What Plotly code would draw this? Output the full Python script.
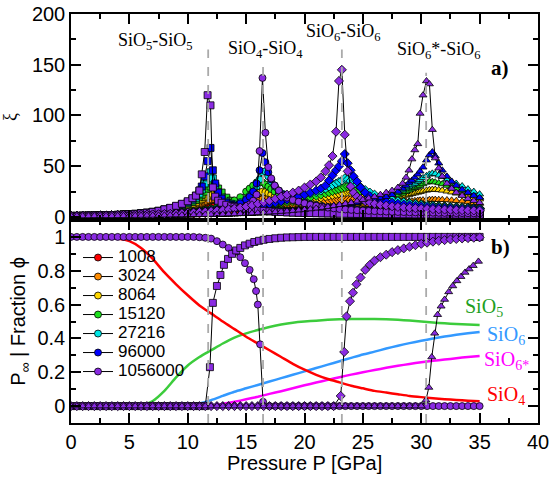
import plotly.graph_objects as go

# ---------------- data ----------------
SIZES = ["1008", "3024", "8064", "15120", "27216", "96000", "1056000"]
SIZE_COLORS = ["#ff0000", "#ff8c00", "#ffd700", "#1ee01e", "#00e5e5", "#0000ff", "#8a2be2"]

P_half = [0.0, 0.5, 1.0, 1.5, 2.0, 2.5, 3.0, 3.5, 4.0, 4.5, 5.0, 5.5, 6.0, 6.5, 7.0, 7.5, 8.0, 8.5, 9.0, 9.5,
          10.0, 10.5, 11.0, 11.5, 12.0, 12.5, 13.0, 13.5, 14.0, 14.5, 15.0, 15.5, 16.0, 16.5, 17.0, 17.5, 18.0, 18.5,
          19.0, 19.5, 20.0, 20.5, 21.0, 21.5, 22.0, 22.5, 23.0, 23.5, 24.0, 24.5, 25.0, 25.5, 26.0, 26.5, 27.0, 27.5,
          28.0, 28.5, 29.0, 29.5, 30.0, 30.5, 31.0, 31.5, 32.0, 32.5, 33.0, 33.5, 34.0, 34.5, 35.0]

# pressure grids of the correlation-length curves (finer near each transition)
P_sio5 = P_half[:20] + [10.0, 10.4, 10.7, 11.0, 11.2, 11.45, 11.7, 11.95, 12.15, 12.35, 12.6, 12.9, 13.3, 13.7] + P_half[28:]
P_sio4 = P_half[:30] + [15.0, 15.3, 15.6, 15.9, 16.15, 16.4, 16.65, 16.9, 17.15, 17.45, 17.8, 18.2] + P_half[37:]
P_sio6 = P_half[:42] + [21.0, 21.4, 21.8, 22.1, 22.4, 22.7, 22.95, 23.2, 23.45, 23.7, 23.95, 24.2, 24.5, 24.8, 25.2, 25.6] + P_half[52:]
P_sio6s = P_half[:54] + [27.0, 27.5, 28.0, 28.4, 28.7, 28.95, 29.2, 29.45, 29.7, 29.9, 30.15, 30.45, 30.7, 30.95,
                         31.2, 31.5, 31.8, 32.2, 32.6, 33.0, 33.5, 34.0, 34.5, 35.0]

# xi, SiO5-SiO5 (squares)
xi_sio5_1008 = [1.0,1.0,1.1,1.2,1.3,1.4,1.5,1.7,1.9,2.1,2.4,2.7,3.1,3.5,4.0,4.6,5.2,5.9,6.6,7.4,
                8.2,9,9.6,10.3,10.8,11.4,11.9,12.3,12.6,12.9,13,13,12.8,12.4,
                12,11.2,10.4,9.6,8.9,8.2,7.6,7.1,6.6,6.2,5.8,5.5,5.2,4.9,4.7,4.5,4.3,4.2,4.0,3.9,3.8,3.7,3.6,3.5,3.5,3.4,3.3,3.3,3.2,3.2,3.1,3.1,3.0,3.0,3.0,2.9,2.9,2.9,2.8,2.8,2.8,2.7,2.7]
xi_sio5_3024 = [1.0,1.0,1.1,1.2,1.3,1.4,1.6,1.8,2.0,2.2,2.5,2.9,3.3,3.8,4.4,5.1,5.9,6.8,7.8,8.9,
                10,11.2,12.2,13.3,14.2,15.2,16,16.8,17.5,18,18,17.5,16.5,15.2,
                14,12.8,11.7,10.7,9.8,9,8.3,7.7,7.2,6.7,6.3,5.9,5.6,5.3,5.1,4.9,4.7,4.5,4.4,4.2,4.1,4.0,3.9,3.8,3.7,3.7,3.6,3.5,3.5,3.4,3.4,3.3,3.3,3.2,3.2,3.2,3.1,3.1,3.1,3.0,3.0,3.0,2.9]
xi_sio5_8064 = [1.0,1.0,1.1,1.2,1.3,1.4,1.6,1.8,2.0,2.3,2.6,3.0,3.4,4.0,4.7,5.5,6.5,7.6,8.8,10,
                11.5,13,14.5,16.5,18,19.5,21,22,23,23,22,20,17.5,15.5,
                14,12.5,11.2,10,9,8.2,7.5,6.9,6.4,6,5.6,5.3,5,4.8,4.6,4.4,4.2,4.1,4.0,3.9,3.8,3.7,3.6,3.5,3.5,3.4,3.4,3.3,3.3,3.2,3.2,3.1,3.1,3.1,3.0,3.0,3.0,2.9,2.9,2.9,2.8,2.8,2.8]
xi_sio5_15120 = [1.0,1.0,1.1,1.2,1.3,1.4,1.6,1.8,2.0,2.3,2.6,3.0,3.5,4.1,4.9,5.8,7.0,8.3,9.7,11.2,
                 13,15,17,20,22,25,28,30,32,31,28,24,19,16,
                 14,12.5,11,9.8,8.8,8,7.3,6.7,6.2,5.8,5.4,5.1,4.8,4.6,4.4,4.2,4.0,3.9,3.8,3.7,3.6,3.5,3.4,3.3,3.3,3.2,3.2,3.1,3.1,3.0,3.0,2.9,2.9,2.9,2.8,2.8,2.8,2.7,2.7,2.7,2.6,2.6,2.6]
xi_sio5_27216 = [1.0,1.0,1.1,1.2,1.3,1.4,1.6,1.8,2.0,2.3,2.6,3.0,3.5,4.1,5.0,6.0,7.4,8.8,10.3,12,
                 14,16.5,19,23,27,33,39,44,38,30,24,19,15,13,
                 12,10.5,9.2,8.2,7.4,6.7,6.1,5.6,5.2,4.9,4.6,4.4,4.2,4.0,3.9,3.8,3.7,3.6,3.5,3.4,3.3,3.2,3.2,3.1,3.1,3.0,3.0,2.9,2.9,2.8,2.8,2.7,2.7,2.7,2.6,2.6,2.6,2.5,2.5,2.5,2.4,2.4,2.4]
xi_sio5_96000 = [1.0,1.0,1.1,1.2,1.3,1.4,1.6,1.8,2.0,2.3,2.6,3.0,3.5,4.1,5.0,6.0,7.4,8.8,10.5,12.5,
                 15,18,21,26,30,40,55,68,46,33,24,18,14,12,
                 11,9.5,8.5,7.5,6.8,6.2,5.7,5.3,4.9,4.6,4.4,4.2,4.0,3.9,3.8,3.7,3.6,3.5,3.4,3.3,3.2,3.1,3.1,3.0,3.0,2.9,2.9,2.8,2.8,2.7,2.7,2.6,2.6,2.6,2.5,2.5,2.5,2.4,2.4,2.4,2.3,2.3,2.3]
xi_sio5_1056000 = [1.0,1.0,1.1,1.2,1.3,1.4,1.6,1.8,2.0,2.3,2.6,3.0,3.5,4.1,5.0,6.0,7.5,9.0,11,13,
                   15.5,18.5,21,26,42,64,120,110,29,20,16,14,12,10.5,
                   10,9,8,7.2,6.5,6,5.5,5.1,4.8,4.5,4.3,4.1,3.9,3.8,3.7,3.6,3.5,3.4,3.3,3.2,3.1,3.0,3.0,2.9,2.9,2.8,2.8,2.7,2.7,2.6,2.6,2.5,2.5,2.5,2.4,2.4,2.4,2.3,2.3,2.3,2.2,2.2,2.2]

# xi, SiO4-SiO4 (circles)
xi_sio4_1008 = [1.0,1.0,1.1,1.1,1.2,1.3,1.4,1.5,1.6,1.7,1.8,2.0,2.2,2.4,2.6,2.8,3.1,3.4,3.7,4.1,4.5,5.0,5.5,6.1,6.8,7.5,8.3,9.1,9.9,10.8,
                11.5,12,12.4,12.8,13,13,12.9,12.7,12.4,12.1,11.7,11.2,
                10.9,10.4,9.9,9.4,8.9,8.5,8.1,7.7,7.4,7.0,6.7,6.5,6.2,6.0,5.8,5.6,5.4,5.3,5.1,5.0,4.9,4.8,4.7,4.6,4.5,4.4,4.3,4.3,4.2,4.1,4.1,4.0,4.0,3.9]
xi_sio4_3024 = [1.0,1.0,1.1,1.1,1.2,1.3,1.4,1.5,1.6,1.7,1.9,2.0,2.2,2.4,2.6,2.9,3.2,3.5,3.8,4.2,4.6,5.1,5.6,6.2,6.9,7.7,8.5,9.4,10.4,11.5,
                12.7,13.6,14.6,15.6,16.5,17.4,18.1,18.6,18.8,18.6,18,17.2,
                16.5,15.6,14.6,13.6,12.7,11.9,11.1,10.4,9.8,9.2,8.7,8.2,7.8,7.4,7.1,6.8,6.5,6.3,6.0,5.8,5.6,5.5,5.3,5.2,5.0,4.9,4.8,4.7,4.6,4.5,4.4,4.3,4.3,4.2]
xi_sio4_8064 = [1.0,1.0,1.1,1.1,1.2,1.3,1.4,1.5,1.6,1.8,1.9,2.1,2.3,2.5,2.7,3.0,3.3,3.6,4.0,4.4,4.9,5.4,6.0,6.7,7.5,8.5,9.7,11.1,12.7,14.5,
                17,18.5,20.5,22.5,24,25,24.5,23.5,22,20.5,19,17.5,
                16.3,14.8,13.5,12.4,11.4,10.5,9.8,9.1,8.5,8.0,7.6,7.2,6.8,6.5,6.2,6.0,5.8,5.6,5.4,5.2,5.1,5.0,4.8,4.7,4.6,4.5,4.4,4.3,4.2,4.2,4.1,4.0,4.0,3.9]
xi_sio4_15120 = [1.0,1.0,1.1,1.1,1.2,1.3,1.4,1.5,1.6,1.8,1.9,2.1,2.3,2.5,2.7,3.0,3.3,3.6,4.0,4.4,4.9,5.5,6.2,7.1,8.2,9.6,11.4,13.6,16.3,19.5,
                 25,28,31,34,35,34,32,30,27.5,25,22.5,20,
                 18.5,16.5,14.8,13.4,12.2,11.1,10.2,9.4,8.8,8.2,7.7,7.3,6.9,6.6,6.3,6.0,5.8,5.6,5.4,5.2,5.1,4.9,4.8,4.7,4.6,4.5,4.4,4.3,4.2,4.1,4.1,4.0,3.9,3.9]
xi_sio4_27216 = [1.0,1.0,1.1,1.1,1.2,1.3,1.4,1.5,1.6,1.7,1.9,2.0,2.2,2.4,2.6,2.8,3.0,3.3,3.6,4.0,4.4,4.9,5.5,6.2,7.0,8.0,9.2,10.7,12.5,14.6,
                 18,21,25,30,37,44,45,40,35,30,26,22.5,
                 20.5,18,16,14.4,13,11.8,10.8,9.9,9.1,8.5,7.9,7.4,7.0,6.6,6.3,6.0,5.8,5.6,5.4,5.2,5.0,4.9,4.8,4.6,4.5,4.4,4.3,4.2,4.1,4.0,4.0,3.9,3.8,3.8]
xi_sio4_96000 = [1.0,1.0,1.1,1.1,1.2,1.3,1.4,1.5,1.6,1.7,1.9,2.0,2.2,2.4,2.6,2.8,3.0,3.3,3.6,3.9,4.3,4.7,5.2,5.8,6.5,7.3,8.3,9.6,11.2,13.5,
                 17,20,25,33,46,63,54,44,37,31,26,22,
                 19.5,17,15.2,13.7,12.3,11.2,10.2,9.4,8.7,8.1,7.6,7.1,6.7,6.4,6.1,5.8,5.6,5.4,5.2,5.0,4.9,4.7,4.6,4.5,4.4,4.3,4.2,4.1,4.0,3.9,3.9,3.8,3.7,3.7]
xi_sio4_1056000 = [1.0,1.0,1.1,1.1,1.2,1.3,1.4,1.5,1.6,1.7,1.9,2.0,2.2,2.4,2.6,2.8,3.0,3.2,3.5,3.8,4.1,4.5,4.9,5.3,5.8,6.3,6.9,7.6,8.4,9.3,
                   10.5,12.5,16,22,65,137,83,49,38,31,26,21,
                   19,16.7,15,13.5,12,11,10,9.2,8.5,7.9,7.4,7,6.6,6.3,6,5.7,5.5,5.3,5.1,4.9,4.8,4.6,4.5,4.4,4.3,4.2,4.1,4.0,3.9,3.8,3.8,3.7,3.6,3.6]

# xi, SiO6-SiO6 (diamonds)
xi_sio6_1008 = [1.0,1.0,1.0,1.1,1.1,1.2,1.2,1.3,1.4,1.5,1.6,1.7,1.8,1.9,2.0,2.2,2.3,2.5,2.7,2.9,3.1,3.3,3.5,3.7,4.0,4.2,4.5,4.7,5.0,5.2,
                5.5,5.7,6.0,6.2,6.4,6.6,6.8,7.0,7.1,7.3,7.4,7.5,
                7.6,7.7,7.8,7.9,7.9,8.0,8.0,8.0,8.0,8.0,8.0,7.9,7.9,7.8,7.7,7.6,
                7.5,7.4,7.3,7.2,7.1,7.0,6.9,6.8,6.7,6.6,6.5,6.4,6.3,6.2,6.1,6.0,6.0,5.9,5.8]
xi_sio6_3024 = [1.0,1.0,1.1,1.1,1.2,1.3,1.4,1.5,1.6,1.7,1.8,1.9,2.1,2.2,2.4,2.6,2.8,3.0,3.3,3.5,3.8,4.1,4.5,4.9,5.3,5.7,6.1,6.6,7.1,7.6,
                8.1,8.6,9.2,9.7,10.3,10.9,11.5,12.1,12.7,13.3,13.9,14.5,
                15,15.5,15.9,16.2,16.5,16.8,17,17.1,17.1,17,16.8,16.6,16.3,15.9,15.5,15.1,
                14.7,14.2,13.7,13.2,12.8,12.4,12,11.6,11.2,10.9,10.6,10.3,10,9.8,9.5,9.3,9.1,8.9,8.7]
xi_sio6_8064 = [1.0,1.0,1.1,1.1,1.2,1.3,1.4,1.5,1.6,1.7,1.8,2.0,2.1,2.3,2.5,2.7,2.9,3.1,3.4,3.7,4.0,4.4,4.8,5.2,5.7,6.2,6.7,7.2,7.7,8.3,
                8.9,9.5,10.2,10.9,11.6,12.4,13.2,14,14.9,15.8,16.7,17.6,
                18.4,19.3,20.2,21,21.8,22.6,23.3,24,24.6,25,24.8,24.3,23.5,22.5,21.3,20.2,
                19.2,18.1,17.1,16.1,15.3,14.5,13.8,13.1,12.5,12,11.5,11,10.6,10.2,9.9,9.6,9.3,9,8.8]
xi_sio6_15120 = [1.0,1.0,1.1,1.1,1.2,1.3,1.4,1.5,1.6,1.7,1.8,2.0,2.1,2.3,2.5,2.7,2.9,3.1,3.4,3.7,4.0,4.4,4.8,5.2,5.7,6.2,6.7,7.2,7.8,8.4,
                 9.0,9.7,10.4,11.2,12,13,14,15,16,17.2,18.4,19.6,
                 20.8,22,23.3,24.4,25.5,26.6,27.5,28.5,29.3,30,29.5,28.5,27.3,25.8,24,22.5,
                 21,19.5,18.1,16.9,15.8,14.8,13.9,13.1,12.4,11.8,11.2,10.7,10.3,9.9,9.5,9.2,8.9,8.6,8.4]
xi_sio6_27216 = [1.0,1.0,1.1,1.1,1.2,1.3,1.4,1.5,1.6,1.7,1.8,2.0,2.1,2.3,2.5,2.7,2.9,3.1,3.4,3.7,4.0,4.4,4.8,5.2,5.7,6.2,6.8,7.4,8.0,8.6,
                 9.3,10.1,11,12,13,14.2,15.5,17,18.5,20,21.5,23,
                 24.5,26,28,30,31.5,33,34.5,36,38,37,35.5,34,32,29.5,26.5,24,
                 22,20,18.3,16.8,15.5,14.4,13.4,12.6,11.9,11.3,10.8,10.3,9.9,9.5,9.2,8.9,8.6,8.4,8.2]
xi_sio6_96000 = [1.0,1.0,1.1,1.1,1.2,1.3,1.4,1.5,1.6,1.7,1.8,2.0,2.1,2.3,2.5,2.7,2.9,3.1,3.4,3.7,4.0,4.4,4.8,5.2,5.7,6.2,6.8,7.4,8.0,8.6,
                 9.3,10.1,11,12,13,14.2,15.5,17,18.5,20,22,24,
                 26,28,31,36,41,46,50,55,62,53,46,40,35,29,24,20.5,
                 18,16.5,15,14,13,12.2,11.5,10.9,10.4,9.9,9.5,9.1,8.8,8.5,8.2,8.0,7.8,7.6,7.4]
xi_sio6_1056000 = [1.0,1.0,1.1,1.1,1.2,1.3,1.4,1.5,1.6,1.7,1.8,2.0,2.1,2.3,2.5,2.7,2.9,3.1,3.4,3.7,4.0,4.4,4.8,5.2,5.7,6.2,6.8,7.5,8.3,9.2,
                   10.3,11.5,13,14.5,16,18,20,22,24,26,29,32,
                   35,39,45,51,60,84,134,145,81,45,30,24,20,17.5,15.5,14,
                   13,12,11.2,10.5,9.9,9.4,9,8.6,8.3,8,7.7,7.5,7.3,7.1,6.9,6.7,6.6,6.4,6.3]

# xi, SiO6*-SiO6 (triangles)
xi_sio6s_1008 = [1.0,1.0,1.0,1.0,1.1,1.1,1.1,1.1,1.2,1.2,1.3,1.3,1.4,1.5,1.5,1.6,1.7,1.8,1.9,1.9,
                 2.0,2.1,2.2,2.3,2.4,2.5,2.6,2.7,2.9,3.0,3.2,3.4,3.6,3.8,4.0,4.2,4.4,4.6,4.9,5.1,
                 5.3,5.5,5.8,6.0,6.2,6.4,6.6,6.8,7.0,7.2,7.3,7.5,7.7,7.8,
                 8.0,8.1,8.3,8.4,8.5,8.6,8.6,8.7,8.8,8.8,8.9,8.9,9.0,9.0,9.0,9.0,8.9,8.9,8.8,8.7,8.6,8.4,8.2,8.0]
xi_sio6s_3024 = [1.0,1.0,1.0,1.0,1.1,1.1,1.1,1.1,1.2,1.2,1.3,1.3,1.4,1.5,1.5,1.6,1.7,1.8,1.9,1.9,
                 2.0,2.1,2.2,2.3,2.4,2.5,2.6,2.8,3.0,3.2,3.4,3.6,3.9,4.2,4.5,4.8,5.1,5.5,5.9,6.3,
                 6.7,7.1,7.5,8.0,8.5,9.0,9.5,10,10.5,11,11.5,12,12.5,13,
                 13.4,13.8,14.2,14.6,15,15.3,15.6,15.9,16.2,16.4,16.6,16.8,17,17.1,17.1,17,16.9,16.7,16.4,16,15.5,14.8,14,13.2]
xi_sio6s_8064 = [1.0,1.0,1.0,1.0,1.1,1.1,1.1,1.1,1.2,1.2,1.3,1.3,1.4,1.5,1.5,1.6,1.7,1.8,1.9,1.9,
                 2.0,2.1,2.2,2.3,2.4,2.5,2.7,2.9,3.1,3.3,3.5,3.8,4.1,4.4,4.8,5.2,5.6,6.0,6.4,6.9,
                 7.4,7.9,8.4,9.0,9.6,10.2,10.8,11.4,12,12.7,13.4,14.1,14.8,15.5,
                 16.2,17.6,19,20.2,21.2,22,22.8,23.5,24.2,24.8,25.5,26.2,26.8,27,27,26.7,26.2,25.3,24.4,23.3,22,20.5,19,17.5]
xi_sio6s_15120 = [1.0,1.0,1.0,1.0,1.1,1.1,1.1,1.1,1.2,1.2,1.3,1.3,1.4,1.5,1.5,1.6,1.7,1.8,1.9,1.9,
                  2.0,2.1,2.2,2.3,2.4,2.5,2.7,2.9,3.1,3.3,3.5,3.8,4.1,4.4,4.8,5.2,5.6,6.1,6.6,7.1,
                  7.6,8.2,8.8,9.4,10.1,10.8,11.5,12.2,13,13.8,14.6,15.4,16.2,17,
                  17.8,19.6,21.5,23.2,24.8,26.2,27.5,28.8,30,31,32.5,34,35,34.8,34.3,33.5,32.5,31,29.5,28,26,24,22,19.5]
xi_sio6s_27216 = [1.0,1.0,1.0,1.0,1.1,1.1,1.1,1.1,1.2,1.2,1.3,1.3,1.4,1.5,1.5,1.6,1.7,1.8,1.9,1.9,
                  2.0,2.1,2.2,2.3,2.4,2.5,2.6,2.8,3.0,3.2,3.4,3.7,4.0,4.3,4.6,5.0,5.4,5.9,6.4,6.9,
                  7.4,8.0,8.7,9.4,10.2,11,11.9,12.8,13.7,14.7,15.7,16.7,17.8,18.9,
                  20,22,24,26.5,28.5,30,31.5,33,35,36.5,38.5,40.5,42,43,42.5,41,39.5,37,35,33,30.5,27.5,25,22.5]
xi_sio6s_96000 = [1.0,1.0,1.0,1.0,1.1,1.1,1.1,1.1,1.2,1.2,1.3,1.3,1.4,1.5,1.5,1.6,1.7,1.8,1.9,1.9,
                  2.0,2.1,2.2,2.3,2.4,2.5,2.6,2.8,3.0,3.2,3.4,3.7,4.0,4.3,4.6,5.0,5.3,5.7,6.2,6.7,
                  7.2,7.8,8.4,9.0,9.7,10.5,11.3,12.2,13.1,14.1,15.2,16.4,17.6,18.8,
                  20,22,25,28,31,34,36,39,42,45,49,56,61,64,60,53,46,40,35,31,27,24,21,19]
xi_sio6s_1056000 = [1.0,1.0,1.0,1.0,1.1,1.1,1.1,1.1,1.2,1.2,1.3,1.3,1.4,1.5,1.5,1.6,1.7,1.8,1.9,1.9,
                    2.0,2.1,2.2,2.3,2.4,2.5,2.6,2.8,3.0,3.2,3.4,3.7,4.0,4.3,4.6,5.0,5.3,5.7,6.2,6.7,
                    7.2,7.8,8.5,9.2,10,11,12,13,14,15.5,17,18.5,20,22,
                    24,26,29,33,39,46,57,66,72,102,120,134,131,86,58,48,40,33,28,24,21,18,16,14]

# Fractions of Si units (lines, lower panel)
P_int = [0, 1, 2, 3, 4, 5, 6, 7, 8, 9, 10, 11, 12, 13, 14, 15, 16, 17, 18, 19, 20, 21, 22, 23, 24, 25, 26, 27, 28,
         29, 30, 31, 32, 33, 34, 35]
frac_sio4 = [1.0,1.0,1.0,0.998,0.99,0.975,0.935,0.87,0.79,0.72,0.655,0.595,0.548,0.5,0.455,0.41,0.37,0.33,0.29,0.25,
             0.215,0.185,0.16,0.14,0.12,0.105,0.09,0.08,0.07,0.06,0.053,0.047,0.041,0.036,0.032,0.029]
frac_sio5 = [0,0,0,0,0,0,0.003,0.03,0.09,0.17,0.24,0.29,0.33,0.37,0.405,0.43,0.45,0.468,0.482,0.493,
             0.5,0.505,0.51,0.513,0.515,0.515,0.515,0.513,0.51,0.506,0.5,0.494,0.489,0.485,0.482,0.479]
frac_sio6 = [0,0,0,0,0,0,0,0,0,0,0.003,0.015,0.035,0.06,0.085,0.105,0.125,0.145,0.165,0.185,
             0.205,0.225,0.245,0.265,0.285,0.305,0.322,0.34,0.357,0.372,0.386,0.399,0.411,0.421,0.43,0.438]
frac_sio6s = [0,0,0,0,0,0,0,0,0,0,0,0,0.003,0.012,0.025,0.04,0.055,0.072,0.088,0.105,
              0.123,0.139,0.155,0.171,0.186,0.2,0.213,0.226,0.238,0.249,0.259,0.268,0.275,0.283,0.29,0.296]

# P_infinity of the largest system (1056000)
P_pinf_sio5 = P_half[:24] + [11.9, 12.15, 12.5, 12.8, 13.1, 13.45, 13.8, 14.15, 14.5, 14.9, 15.3, 15.7, 16.1, 16.5,
                             17.0, 17.5, 18.0, 18.5, 19.0, 19.5] + P_half[40:]
pinf_sio5 = [0,0,0,0,0,0,0,0,0,0,0,0,0,0,0,0,0,0,0,0,0,0,0,0,
             0.23,0.61,0.71,0.775,0.835,0.87,0.9,0.92,0.935,0.95,0.96,0.97,0.977,0.983,0.988,0.992,0.995,0.997,0.998,0.999,
             1,1,1,1,1,1,1,1,1,1,1,1,1,1,1,1,1,1,1,1,1,1,1,1,1,1,1,1,1,1,1]
P_pinf_sio4 = P_half[:24] + [12.0, 12.5, 13.0, 13.5, 14.0, 14.5, 14.9, 15.3, 15.65, 15.85, 16.0, 16.2, 16.45] + P_half[34:]
pinf_sio4 = [1,1,1,1,1,1,1,1,1,1,1,1,1,1,1,1,1,1,1,1,1,1,0.998,0.995,
             0.99,0.975,0.955,0.935,0.91,0.88,0.845,0.805,0.75,0.68,0.6,0.365,0.025,
             0,0,0,0,0,0,0,0,0,0,0,0,0,0,0,0,0,0,0,0,0,0,0,0,0,0,0,0,0,0,0,0,0,0,0,0,0]
P_pinf_sio6 = P_half[:46] + [23.1, 23.4, 23.6, 23.9, 24.15, 24.45, 24.8, 25.2, 25.6, 26.0, 26.5, 27.0, 27.5, 28.0,
                             28.5, 29.0, 29.5, 30.0, 30.5, 31.0, 31.5, 32.0, 32.5, 33.0, 33.5, 34.0, 34.5, 35.0]
pinf_sio6 = [0,0,0,0,0,0,0,0,0,0,0,0,0,0,0,0,0,0,0,0,0,0,0,0,0,0,0,0,0,0,0,0,0,0,0,0,0,0,0,0,0,0,0,0,0,0,
             0.06,0.32,0.53,0.62,0.67,0.72,0.76,0.805,0.835,0.86,0.88,0.895,0.91,0.922,0.932,0.942,0.951,0.959,
             0.966,0.972,0.977,0.981,0.985,0.988,0.991,0.993,0.995,0.997]
P_pinf_sio6s = P_half[:61] + [30.4, 30.65, 30.9, 31.15, 31.4, 31.7, 32.0, 32.35, 32.7, 33.05, 33.4, 33.75, 34.1, 34.45, 34.9]
pinf_sio6s = [0,0,0,0,0,0,0,0,0,0,0,0,0,0,0,0,0,0,0,0,0,0,0,0,0,0,0,0,0,0,0,0,0,0,0,0,0,0,0,0,0,0,0,0,0,0,0,0,0,0,0,0,0,0,0,0,0,0,0,0,0,
              0.035,0.11,0.29,0.43,0.54,0.59,0.63,0.675,0.71,0.74,0.765,0.79,0.81,0.83,0.855]

# transition pressures (dashed guides) and their top ends in the xi panel
P_trans = [11.75, 16.45, 23.2, 30.42]
xi_guide_top = [165, 150, 165, 142]

# ---------------- figure ----------------
XI = {
    "sio5": (P_sio5, [xi_sio5_1008, xi_sio5_3024, xi_sio5_8064, xi_sio5_15120, xi_sio5_27216, xi_sio5_96000, xi_sio5_1056000], "square"),
    "sio4": (P_sio4, [xi_sio4_1008, xi_sio4_3024, xi_sio4_8064, xi_sio4_15120, xi_sio4_27216, xi_sio4_96000, xi_sio4_1056000], "circle"),
    "sio6": (P_sio6, [xi_sio6_1008, xi_sio6_3024, xi_sio6_8064, xi_sio6_15120, xi_sio6_27216, xi_sio6_96000, xi_sio6_1056000], "diamond"),
    "sio6s": (P_sio6s, [xi_sio6s_1008, xi_sio6s_3024, xi_sio6s_8064, xi_sio6s_15120, xi_sio6s_27216, xi_sio6s_96000, xi_sio6s_1056000], "triangle-up"),
}
for key, (px, series, _) in XI.items():
    for s, ys in zip(SIZES, series):
        if len(px) != len(ys):
            raise ValueError(f"length mismatch {key} {s}: {len(px)} vs {len(ys)}")
for name, a, b in [("sq", P_pinf_sio5, pinf_sio5), ("ci", P_pinf_sio4, pinf_sio4),
                   ("di", P_pinf_sio6, pinf_sio6), ("tr", P_pinf_sio6s, pinf_sio6s)]:
    if len(a) != len(b):
        raise ValueError(f"length mismatch pinf {name}: {len(a)} vs {len(b)}")

SERIF = "Liberation Serif, Times New Roman, serif"
SANS = "Liberation Sans, Arial, Helvetica, sans-serif"

fig = go.Figure()
MS = 7
for i, (s, col) in enumerate(zip(SIZES, SIZE_COLORS)):
    for key in ["sio5", "sio4", "sio6", "sio6s"]:
        px, series, sym = XI[key]
        fig.add_trace(go.Scatter(
            x=px, y=series[i], mode="lines+markers", xaxis="x", yaxis="y",
            name=f"<span style='font-size:17px'>{s}</span>", showlegend=(key == "sio4"), legendgroup=s,
            line=dict(color="black", width=1),
            marker=dict(symbol=sym, size=MS, color=col, line=dict(color="black", width=0.8)),
            hoverinfo="skip"))

LINE_COLORS = {"sio4": "#ff0000", "sio5": "#3ccc3c", "sio6": "#3399ff", "sio6s": "#ff00ff"}
for key, ys in [("sio5", frac_sio5), ("sio6", frac_sio6), ("sio6s", frac_sio6s), ("sio4", frac_sio4)]:
    fig.add_trace(go.Scatter(x=P_int, y=ys, mode="lines", xaxis="x2", yaxis="y2", showlegend=False,
                             line=dict(color=LINE_COLORS[key], width=2.5, shape="spline", smoothing=0.6),
                             hoverinfo="skip"))

purple = SIZE_COLORS[-1]
for px, ys, sym in [(P_pinf_sio4, pinf_sio4, "circle"), (P_pinf_sio5, pinf_sio5, "square"),
                    (P_pinf_sio6, pinf_sio6, "diamond"), (P_pinf_sio6s, pinf_sio6s, "triangle-up")]:
    fig.add_trace(go.Scatter(x=px, y=ys, mode="lines+markers", xaxis="x2", yaxis="y2", showlegend=False,
                             line=dict(color="black", width=1),
                             marker=dict(symbol=sym, size=MS, color=purple, line=dict(color="black", width=0.8)),
                             hoverinfo="skip"))

shapes = []
for xc, yt in zip(P_trans, xi_guide_top):
    shapes.append(dict(type="line", xref="x", yref="y", x0=xc, x1=xc, y0=-3, y1=yt,
                       line=dict(color="#aaaaaa", width=1.8, dash="dash"), layer="above"))
    shapes.append(dict(type="line", xref="x2", yref="y2", x0=xc, x1=xc, y0=-0.1, y1=1.1,
                       line=dict(color="#aaaaaa", width=1.8, dash="dash"), layer="above"))

ann = []
for txt, x, y in [("SiO<sub>5</sub>-SiO<sub>5</sub>", 7.28, 172.5),
                  ("SiO<sub>4</sub>-SiO<sub>4</sub>", 16.62, 165),
                  ("SiO<sub>6</sub>-SiO<sub>6</sub>", 23.34, 181.5),
                  ("SiO<sub>6</sub>*-SiO<sub>6</sub>", 31.52, 164)]:
    ann.append(dict(text=txt, x=x, y=y, xref="x", yref="y", showarrow=False,
                    font=dict(family=SERIF, size=18, color="black")))
ann.append(dict(text="<b>a)</b>", x=36.75, y=146.8, xref="x", yref="y", showarrow=False,
                font=dict(family=SERIF, size=21, color="black")))
ann.append(dict(text="<b>b)</b>", x=36.83, y=0.94, xref="x2", yref="y2", showarrow=False,
                font=dict(family=SERIF, size=21, color="black")))
for txt, col, x, y in [("SiO<sub>5</sub>", "#1f9f1f", 35.37, 0.58),
                       ("SiO<sub>6</sub>", "#3399ff", 37.26, 0.42),
                       ("SiO<sub>6*</sub>", "#ff00ff", 37.34, 0.267),
                       ("SiO<sub>4</sub>", "#ff0000", 37.26, 0.06)]:
    ann.append(dict(text=txt, x=x, y=y, xref="x2", yref="y2", showarrow=False,
                    font=dict(family=SERIF, size=20, color=col)))
# x-axis title (placed as paper text so it sits as close to the tick labels as in the reference)
ann.append(dict(text="Pressure P [GPa]", x=0.5, y=-0.097, xref="paper", yref="paper", showarrow=False,
                xanchor="center", yanchor="middle", font=dict(family=SANS, size=20, color="black")))

axis_common = dict(showline=True, linecolor="black", linewidth=1.5, mirror="allticks", ticks="inside",
                   ticklen=10, tickwidth=1.5, tickcolor="black", showgrid=False, zeroline=False,
                   automargin=False, tickfont=dict(family=SANS, size=20, color="black"))
split = 206.0 / 409.0
fig.update_layout(
    width=555, height=499, margin=dict(l=71, r=17, t=14, b=76, autoexpand=False),
    plot_bgcolor="white", paper_bgcolor="white",
    shapes=shapes, annotations=ann,
    legend=dict(x=0.015, y=0.44, xanchor="left", yanchor="top", bgcolor="rgba(0,0,0,0)",
                font=dict(family=SANS, size=11.5, color="black"), itemwidth=30, tracegroupgap=0),
    xaxis=dict(domain=[0, 1], anchor="y", range=[0, 40], dtick=5, showticklabels=False, matches="x2",
               minor=dict(ticks="inside", dtick=2.5, ticklen=5, tickwidth=1.5, tickcolor="black"), **axis_common),
    yaxis=dict(domain=[1 - split, 1], anchor="x", range=[-3, 200], dtick=50, tick0=0,
               minor=dict(ticks="inside", dtick=25, ticklen=5, tickwidth=1.5, tickcolor="black"),
               title=dict(text="ξ", font=dict(family=SERIF, size=18, color="black"), standoff=12), **axis_common),
    xaxis2=dict(domain=[0, 1], anchor="y2", range=[0, 40], dtick=5,
                minor=dict(ticks="inside", dtick=2.5, ticklen=5, tickwidth=1.5, tickcolor="black"),
                **axis_common),
    yaxis2=dict(domain=[0, 1 - split], anchor="x2", range=[-0.1, 1.1], dtick=0.2, tick0=0,
                minor=dict(ticks="inside", dtick=0.1, ticklen=5, tickwidth=1.5, tickcolor="black"),
                title=dict(text="P<sub>∞</sub> | Fraction ϕ", font=dict(family=SANS, size=20, color="black"), standoff=6),
                **axis_common),
)

fig.write_html("out.html")
